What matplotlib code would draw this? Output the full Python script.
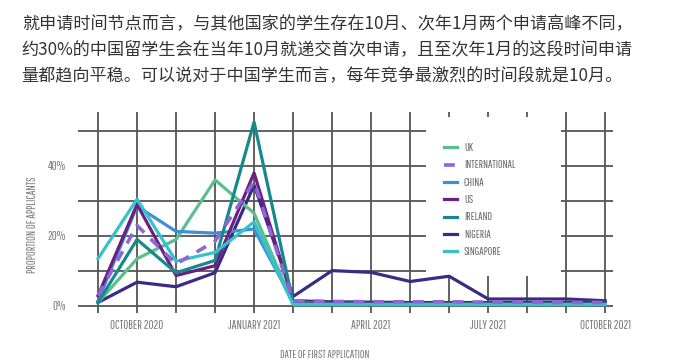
import matplotlib
matplotlib.use("Agg")
import matplotlib.pyplot as plt
from matplotlib.patches import Rectangle

plt.rcParams['font.family'] = ['Pathway Gothic One', 'DejaVu Sans']

# months from Sep 2020 to Oct 2021
months = list(range(14))
xtick_labels = ["", "OCTOBER 2020", "", "", "JANUARY 2021", "", "", "APRIL 2021", "", "",
                "JULY 2021", "", "", "OCTOBER 2021"]
ytick_pos = [0, 10, 20, 30, 40, 50]
ytick_labels = ["0%", "", "20%", "", "40%", ""]

uk = [1, 13.5, 19, 36, 26.5, 0.8, 0.8, 0.7, 0.7, 0.7, 0.7, 0.8, 1, 1]
international = [3, 23, 12, 18.5, 35.5, 1.5, 1.3, 1.2, 1.2, 1.2, 1.1, 1.1, 1, 1]
china = [1.5, 28.5, 21.3, 20.8, 22, 1.2, 1, 0.9, 0.9, 0.9, 0.9, 0.9, 0.9, 0.9]
us = [3, 29, 8.7, 11.5, 38, 1.5, 1.2, 1.1, 1, 1, 1, 1, 1, 1]
ireland = [1, 19, 9.5, 13, 52.5, 1, 0.7, 0.6, 0.6, 0.6, 0.6, 0.6, 0.6, 0.6]
nigeria = [1, 6.8, 5.5, 9.5, 34.5, 2.7, 10.1, 9.6, 7, 8.5, 2, 2, 2, 1.5]
singapore = [13.5, 30.5, 12.8, 15.3, 24, 0.4, 0.4, 0.4, 0.4, 0.4, 0.4, 0.4, 0.4, 0.4]

text = ("就申请时间节点而言，与其他国家的学生存在10月、次年1月两个申请高峰不同，\n"
        "约30%的中国留学生会在当年10月就递交首次申请，且至次年1月的这段时间申请\n"
        "量都趋向平稳。可以说对于中国学生而言，每年竞争最激烈的时间段就是10月。")

fig = plt.figure(figsize=(6.99, 3.61), dpi=100)
fig.text(0.031, 0.957, text, fontsize=12.3, color="#333333", va="top", linespacing=1.55,
         family=["Noto Sans CJK SC", "DejaVu Sans"])

ax = fig.add_axes([78 / 699, 1 - 313 / 361, 535 / 699, 201 / 361])
ax.set_xlim(-0.513, 13.2)
ax.set_ylim(-2, 55.4)
for s in ax.spines.values():
    s.set_visible(False)

ax.set_xticks(months)
ax.set_xticklabels(xtick_labels)
ax.set_yticks(ytick_pos)
ax.set_yticklabels(ytick_labels)
ax.tick_params(axis="both", length=0, colors="#7a7a7a", labelsize=8.8)
ax.tick_params(axis="y", pad=9)
ax.tick_params(axis="x", pad=5)
ax.grid(True, color="#555555", linewidth=1.3)
ax.set_axisbelow(True)

ax.set_xlabel("DATE OF FIRST APPLICATION", fontsize=8, color="#7a7a7a")
ax.xaxis.set_label_coords(0.462, -0.185)
ax.set_ylabel("PROPORTION OF APPLICANTS", fontsize=8.5, color="#7a7a7a")
ax.yaxis.set_label_coords(-0.075, 0.44)

# white box behind the legend hides the grid
ax.add_patch(Rectangle((0.650, 0.184), 0.252, 0.791, transform=ax.transAxes,
                       facecolor="white", edgecolor="none", zorder=1.5))

lw = 2.3
ax.plot(months, nigeria, color="#3b2b86", lw=lw, label="NIGERIA", zorder=3)
ax.plot(months, uk, color="#5bbf8c", lw=lw, label="UK", zorder=3)
ax.plot(months, china, color="#3d8fd6", lw=lw, label="CHINA", zorder=3)
ax.plot(months, us, color="#6c1f7e", lw=lw, label="US", zorder=3)
ax.plot(months, ireland, color="#17898a", lw=lw, label="IRELAND", zorder=3)
ax.plot(months, singapore, color="#35c2cd", lw=lw, label="SINGAPORE", zorder=3)
ax.plot(months, international, color="#8e66d6", lw=2.6, ls=(0, (3, 2.5)),
        label="INTERNATIONAL", zorder=4)

handles, labels = ax.get_legend_handles_labels()
order = ["UK", "INTERNATIONAL", "CHINA", "US", "IRELAND", "NIGERIA", "SINGAPORE"]
hmap = dict(zip(labels, handles))
leg = ax.legend([hmap[k] for k in order], order, loc="upper left",
                bbox_to_anchor=(0.684, 0.845), frameon=False, fontsize=8,
                handlelength=1.2, handletextpad=0.6, labelspacing=0.66,
                borderpad=0, borderaxespad=0, labelcolor="#6a6a6a")
leg.set_zorder(5)

fig.savefig("out.png", dpi=100)
